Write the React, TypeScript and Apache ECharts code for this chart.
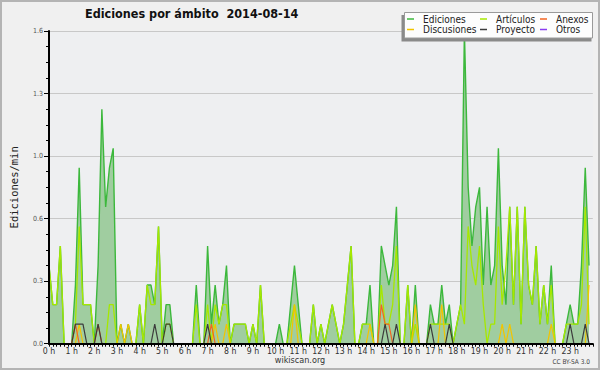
import React, { useEffect, useRef } from 'react';
import * as echarts from 'echarts';

const TITLE = 'Ediciones por ámbito  2014-08-14';
const Y_NAME = 'Ediciones/min';
const HOUR_LABELS = ['0 h','1 h','2 h','3 h','4 h','5 h','6 h','7 h','8 h','9 h','10 h','11 h','12 h','13 h','14 h','15 h','16 h','17 h','18 h','19 h','20 h','21 h','22 h','23 h'];
const LEGEND_COLS = [['Ediciones', 'Discusiones'], ['Artículos', 'Proyecto'], ['Anexos', 'Otros']];

// 10-minute buckets, edits per minute
const ediciones = [
  0.4, 0.2, 0.2, 0.5, 0, 0, 0, 0.3, 0.9, 0.2, 0.2, 0.2,
  0, 0.4, 1.2, 0.7, 0.9, 1.0, 0, 0.1, 0, 0.1, 0, 0,
  0.2, 0, 0.3, 0.3, 0.2, 0.6, 0, 0.2, 0.2, 0, 0, 0,
  0, 0, 0, 0.3, 0, 0, 0.5, 0.1, 0.3, 0.1, 0.2, 0.4,
  0, 0.1, 0.1, 0.1, 0.1, 0, 0.1, 0, 0.3, 0, 0, 0,
  0, 0.1, 0, 0, 0.2, 0.4, 0.2, 0, 0, 0, 0.2, 0,
  0.1, 0, 0.1, 0.2, 0.1, 0, 0.1, 0.3, 0.5, 0, 0, 0.1,
  0.1, 0.3, 0, 0, 0.5, 0.4, 0.3, 0.4, 0.7, 0, 0, 0.3,
  0, 0.3, 0, 0, 0, 0.2, 0.1, 0.1, 0.3, 0.1, 0.2, 0,
  0.1, 0.2, 1.6, 0.8, 0.5, 0.7, 0.8, 0.3, 0.7, 0.3, 0.4, 1.0,
  0.4, 0.2, 0.7, 0.2, 0.7, 0.1, 0.7, 0.3, 0.2, 0.5, 0.1, 0.3,
  0.1, 0.4, 0, 0, 0, 0.1, 0.2, 0.1, 0.1, 0.4, 0.9, 0.4,
];
const articulos = [
  0.4, 0.2, 0.2, 0.5, 0, 0, 0, 0.1, 0.6, 0.2, 0.2, 0.2,
  0, 0, 0, 0, 0.2, 0.2, 0, 0, 0, 0, 0, 0,
  0.2, 0, 0.3, 0.2, 0.2, 0.6, 0, 0.1, 0.1, 0, 0, 0,
  0, 0, 0, 0.2, 0, 0, 0.2, 0, 0.2, 0.1, 0.2, 0.2,
  0, 0.1, 0.1, 0.1, 0.1, 0, 0.1, 0, 0.3, 0, 0, 0,
  0, 0, 0, 0, 0.1, 0.2, 0.1, 0, 0, 0, 0.2, 0,
  0.1, 0, 0.1, 0.2, 0.1, 0, 0.1, 0.3, 0.5, 0, 0, 0.1,
  0.1, 0.1, 0, 0, 0.3, 0.1, 0.1, 0.2, 0.5, 0, 0, 0.3,
  0, 0.1, 0, 0, 0, 0.1, 0.1, 0.1, 0.1, 0.1, 0.1, 0,
  0.1, 0.2, 0.1, 0.6, 0.4, 0.3, 0.5, 0.2, 0, 0.1, 0.1, 0.6,
  0.2, 0.4, 0.7, 0.2, 0.7, 0.1, 0.7, 0.3, 0.2, 0.5, 0.1, 0.3,
  0.1, 0.3, 0, 0, 0, 0.1, 0.1, 0.1, 0.1, 0.2, 0.7, 0.1,
];
// sparse series: [bucket index, edits per minute]
const discusionesPts = [[8, 0.1], [19, 0.1], [21, 0.1], [44, 0.1], [47, 0.1], [65, 0.2], [85, 0.1], [97, 0.2], [104, 0.2], [120, 0.1], [122, 0.1], [133, 0.1], [143, 0.3]];
const anexosPts = [[7, 0.1], [13, 0.1], [43, 0.1], [88, 0.2], [89, 0.1], [90, 0.1]];
const proyectoPts = [[7, 0.1], [8, 0.1], [9, 0.1], [13, 0.1], [28, 0.1], [31, 0.1], [32, 0.1], [42, 0.1], [89, 0.1], [92, 0.1], [101, 0.1], [106, 0.1], [138, 0.1], [142, 0.1]];
const otrosPts: number[][] = [];

const N = ediciones.length;
const expand = (pts: number[][]) => {
  const arr = new Array(N).fill(0);
  pts.forEach(([i, v]) => { arr[i] = v; });
  return arr;
};
const toXY = (arr: number[]) => arr.map((v, i) => [i, v]);

const FONT = "'DejaVu Sans Condensed', 'DejaVu Sans', sans-serif";

export default function App() {
  const ref = useRef<HTMLDivElement>(null);
  useEffect(() => {
    if (!ref.current) return;
    const chart = echarts.init(ref.current, null, { renderer: 'svg' });
    const lineSeries = (name: string, data: number[], color: string, width: number, z: number, extra: any = {}) => ({
      name, type: 'line', data: toXY(data), showSymbol: false, symbol: 'none', color,
      lineStyle: { width, color }, z, ...extra,
    });
    const legendCommon = {
      orient: 'vertical', icon: 'rect', itemWidth: 7, itemHeight: 1.5, itemGap: 0.5, padding: 0,
      selectedMode: false, z: 12,
      textStyle: { fontFamily: FONT, fontSize: 10, color: '#222', lineHeight: 10, padding: [0, 0, 0, 4] },
    };
    chart.setOption({
      animation: false,
      backgroundColor: '#f0f0f0',
      textStyle: { fontFamily: FONT },
      title: {
        text: TITLE, left: 85, top: 7, padding: 0,
        textStyle: { fontFamily: FONT, fontWeight: 'bold', fontSize: 12.5, color: '#111' },
      },
      grid: { left: 45.6, right: 7.2, top: 31, bottom: 26.3, show: true, backgroundColor: '#eeeff1', borderWidth: 0 },
      xAxis: {
        type: 'value', min: 0, max: 144, interval: 6, z: 10,
        axisLine: { lineStyle: { color: '#000', width: 2 } },
        axisTick: { length: 3, lineStyle: { color: '#000', width: 1 } },
        minorTick: { show: true, splitNumber: 6, length: 3, lineStyle: { color: '#000', width: 1 } },
        axisLabel: {
          formatter: (v: number) => HOUR_LABELS[Math.round(v / 6)] ?? '',
          fontSize: 8.7, color: '#333', margin: 3, showMaxLabel: false, fontFamily: FONT,
        },
        splitLine: { show: false },
      },
      yAxis: [
        {
          type: 'value', min: 0, max: 1.6, interval: 0.32,
          axisLine: { show: false }, axisTick: { show: false }, axisLabel: { show: false },
          splitLine: { lineStyle: { color: '#c8c8c8', width: 1 } },
        },
        {
          type: 'value', min: 0, max: 1.6, interval: 0.32, z: 10, position: 'left',
          name: Y_NAME, nameLocation: 'middle', nameGap: 30, nameRotate: 90,
          nameTextStyle: { fontFamily: "'DejaVu Sans Mono', monospace", fontSize: 10.5, color: '#222' },
          axisLine: { show: true, lineStyle: { color: '#000', width: 2 } },
          axisTick: { show: true, length: 5, lineStyle: { color: '#000', width: 1 } },
          minorTick: { show: true, splitNumber: 4, length: 3, lineStyle: { color: '#000', width: 1 } },
          axisLabel: { formatter: (v: number) => v.toFixed(1), fontSize: 7, color: '#555', margin: 6, fontFamily: FONT },
          splitLine: { show: false },
        },
      ],
      legend: LEGEND_COLS.map((names, k) => ({ ...legendCommon, data: names, left: [407, 480, 540][k], top: 14 })),
      series: [
        lineSeries('Ediciones', ediciones, '#3cb83c', 1.4, 2, { areaStyle: { color: '#a0cda0', opacity: 1 } }),
        lineSeries('Artículos', articulos, '#a6e800', 1.3, 3),
        lineSeries('Discusiones', expand(discusionesPts), '#f2c400', 1.2, 4),
        lineSeries('Anexos', expand(anexosPts), '#f26522', 1.2, 5),
        lineSeries('Proyecto', expand(proyectoPts), '#3c3c3c', 1.2, 6),
        lineSeries('Otros', expand(otrosPts), '#8a3cf0', 1.2, 7),
      ],
      graphic: [
        { type: 'rect', z: 10, silent: true, shape: { x: 401.5, y: 15, width: 190, height: 26.5 }, style: { fill: '#8a8a8a' } },
        { type: 'rect', z: 10, silent: true, shape: { x: 404.5, y: 12.5, width: 188, height: 25.5 }, style: { fill: '#fdfdfd', stroke: '#9a9a9a', lineWidth: 1 } },
        { type: 'text', z: 10, silent: true, x: 300, y: 360, style: { text: 'wikiscan.org', fill: '#333', font: `9px ${FONT}`, align: 'center', verticalAlign: 'middle' } },
        { type: 'text', z: 10, silent: true, x: 590, y: 362, style: { text: 'CC BY-SA 3.0', fill: '#444', font: `6.5px ${FONT}`, align: 'right', verticalAlign: 'middle' } },
        { type: 'rect', z: 20, silent: true, shape: { x: 1, y: 1, width: 598, height: 368 }, style: { fill: 'none', stroke: '#b4b4b4', lineWidth: 2 } },
      ],
    });
    return () => chart.dispose();
  }, []);
  return <div ref={ref} style={{ position: 'fixed', left: 0, top: 0, width: 600, height: 370 }} />;
}
